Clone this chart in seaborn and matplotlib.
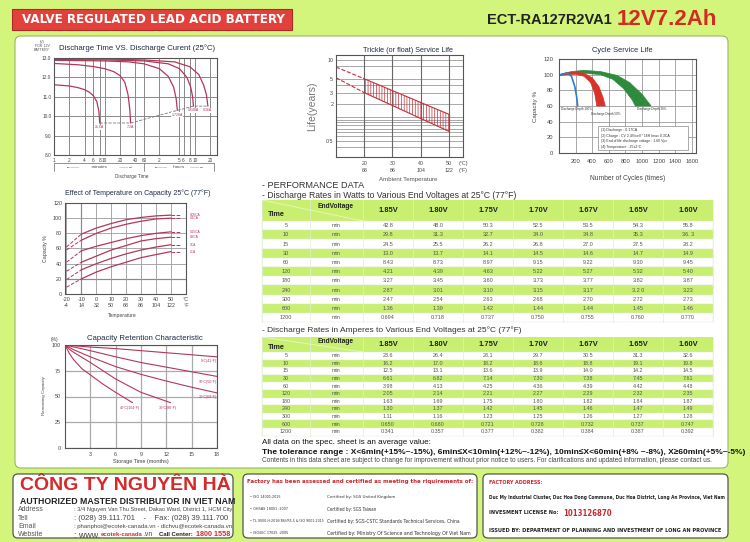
import matplotlib
matplotlib.use("Agg")
import matplotlib.pyplot as plt
import seaborn as sns
import numpy as np
from matplotlib import font_manager as fm
from matplotlib.patches import Rectangle, FancyBboxPatch
from matplotlib.ticker import NullLocator

# ---------------- data ----------------
TIMES = [5, 10, 15, 30, 60, 120, 180, 240, 300, 600, 1200]
VOLTS = ["1.85V", "1.80V", "1.75V", "1.70V", "1.67V", "1.65V", "1.60V"]

W_185 = ["42.8", "29.8", "24.5", "13.0", "8.43", "4.21", "3.27", "2.87", "2.47", "1.36", "0.694"]
W_180 = ["48.0", "31.3", "25.5", "13.7", "8.73", "4.39", "3.45", "3.01", "2.54", "1.39", "0.718"]
W_175 = ["50.3", "32.7", "26.2", "14.1", "8.97", "4.63", "3.60", "3.10", "2.63", "1.42", "0.737"]
W_170 = ["52.5", "34.0", "26.8", "14.5", "9.15", "5.22", "3.73", "3.15", "2.68", "1.44", "0.750"]
W_167 = ["53.5", "34.8", "27.0", "14.6", "9.22", "5.27", "3.77", "3.17", "2.70", "1.44", "0.755"]
W_165 = ["54.3", "35.3", "27.5", "14.7", "9.30", "5.32", "3.82", "3.2 0", "2.72", "1.45", "0.760"]
W_160 = ["55.8", "36. 3", "28.2", "14.9", "9.45", "5.40", "3.87", "3.23", "2.73", "1.46", "0.770"]

A_185 = ["23.6", "16.2", "12.5", "6.61", "3.98", "2.05", "1.63", "1.30", "1.11", "0.650", "0.341"]
A_180 = ["26.4", "17.0", "13.1", "6.82", "4.13", "2.14", "1.69", "1.37", "1.16", "0.680", "0.357"]
A_175 = ["28.1", "18.2", "13.6", "7.14", "4.25", "2.21", "1.75", "1.42", "1.23", "0.721", "0.377"]
A_170 = ["29.7", "18.6", "13.9", "7.30", "4.36", "2.27", "1.80", "1.45", "1.25", "0.728", "0.382"]
A_167 = ["30.5", "18.8", "14.0", "7.38", "4.39", "2.29", "1.82", "1.46", "1.26", "0.732", "0.384"]
A_165 = ["31.3", "19.1", "14.2", "7.45", "4.42", "2.32", "1.84", "1.47", "1.27", "0.737", "0.387"]
A_160 = ["32.6", "19.8", "14.5", "7.61", "4.48", "2.35", "1.87", "1.49", "1.28", "0.747", "0.392"]

# discharge time vs current (minutes, volts)
DC1_T = [1, 2, 3, 4, 5, 6, 7, 7.7, 8.0]
DC1_V = [11.62, 11.56, 11.47, 11.37, 11.24, 11.05, 10.75, 10.25, 9.65]
DC2_T = [1, 3, 6, 10, 15, 20, 25, 29, 31.5, 32.5]
DC2_V = [12.72, 12.65, 12.56, 12.45, 12.3, 12.1, 11.75, 11.1, 10.3, 9.65]
DC3_T = [1, 10, 30, 60, 120, 180, 230, 258, 272]
DC3_V = [12.88, 12.85, 12.8, 12.7, 12.45, 12.05, 11.5, 10.9, 10.3]
DC4_T = [1, 10, 60, 180, 300, 420, 500, 545, 565]
DC4_V = [12.92, 12.9, 12.85, 12.7, 12.45, 12.0, 11.5, 11.0, 10.52]
DC5_T = [1, 10, 60, 240, 480, 720, 900, 1020, 1090]
DC5_V = [12.95, 12.95, 12.9, 12.8, 12.55, 12.15, 11.6, 11.1, 10.52]
DC_LABELS = ["21.6A", "7.2A", "1.728A", "0.648A", "0.36A"]
END_T = [8.0, 32.5, 272, 565, 1090]
END_V = [9.65, 9.65, 10.3, 10.52, 10.52]

# trickle life (deg C, years)
TR_T = [20, 50]
TR_HI = [5.0, 1.35]
TR_LO = [3.0, 0.72]
TR_EXT_T = [10, 20]
TR_EXT_HI = [7.7, 5.0]
TR_EXT_LO = [5.2, 3.0]

# cycle life (cycles, %)
C100_X = [0, 50, 100, 150, 190, 212, 225]
C100_Y = [99, 101, 102, 98, 85, 72, 60]
C50_UX = [0, 100, 200, 300, 400, 480, 530, 558]
C50_UY = [100, 102.5, 103, 102, 96, 85, 71, 60]
C50_LX = [0, 100, 200, 300, 380, 430, 455]
C50_LY = [99, 100, 100.5, 98, 90, 76, 60]
C30_UX = [0, 150, 300, 500, 700, 850, 1000, 1110]
C30_UY = [100, 104, 105.5, 104, 99, 90, 75, 60]
C30_LX = [0, 150, 300, 500, 650, 780, 880, 920]
C30_LY = [99, 101, 102, 100, 94, 82, 68, 60]

# effect of temperature on capacity
TE_T = [-10, 0, 10, 20, 30, 40, 50]
TE_005 = [79, 87, 93, 98, 101, 103, 104]
TE_01 = [71, 80, 87, 92, 96, 99, 100]
TE_025 = [57, 63, 68, 73, 77, 80, 82]
TE_06 = [42, 50, 58, 64, 70, 73, 75]
TE_1 = [32, 40, 47, 53, 58, 62, 65]
TE_2 = [20, 29, 36, 42, 48, 52, 56]
TE_LEFT = [62, 58, 42, 30, 19, 9]
TE_LABELS = ["0.05CA", "0.1CA", "0.25CA", "0.6CA", "1CA", "2CA"]

# capacity retention (months, %)
R5_T = [0, 3, 6, 9, 12, 15, 18]
R5_V = [100, 98, 96.5, 94.5, 92.5, 90.5, 88.5]
R10_T = [0, 3, 6, 9, 12, 15, 18]
R10_V = [100, 94.5, 88.5, 83, 78.5, 74, 69.5]
R20_T = [0, 1, 2, 3, 6, 9, 12, 15, 18]
R20_V = [100, 95.5, 92, 88.5, 79, 71.5, 65, 59, 53.5]
R30_T = [0, 0.5, 1, 2, 3, 4.5, 6, 9, 12.5]
R30_V = [100, 96, 93, 88, 83, 75, 67, 54, 44]
R40_T = [0, 0.5, 1, 2, 3, 4.5, 6, 8]
R40_V = [100, 92, 86, 77, 71, 62, 54, 44]

# ---------------- style ----------------
sns.set_theme(style="white")
plt.rcParams['font.family'] = ['Liberation Sans', 'DejaVu Sans']
plt.rcParams['hatch.linewidth'] = 0.5


def pick_narrow():
    # procura uma fonte estreita instalada
    for fam, stretch in [('Liberation Sans Narrow', 'normal'), ('DejaVu Sans', 'condensed')]:
        fp = fm.FontProperties(family=fam, stretch=stretch, weight='bold')
        try:
            f = fm.findfont(fp, fallback_to_default=False)
        except ValueError:
            continue
        if 'Narrow' in f or 'Condensed' in f:
            return [fam], stretch
    return ['Liberation Sans', 'DejaVu Sans'], 'normal'


NARROW, NSTRETCH = pick_narrow()

LIME = '#d3f57b'
GREEN = '#c9ef70'
RED = '#e2413b'
PINK = '#b5365b'
DARK = '#222222'
TITLE = '#1f2a44'
GRID = '#9a9a9a'

W, H = 750, 542
fig = plt.figure(figsize=(7.5, 5.42), dpi=100)
fig.patch.set_facecolor(LIME)
renderer = fig.canvas.get_renderer()


def box(x0, y0, x1, y1):
    return [x0 / W, 1 - y1 / H, (x1 - x0) / W, (y1 - y0) / H]


bg = fig.add_axes([0, 0, 1, 1])
bg.set_xlim(0, W)
bg.set_ylim(H, 0)
bg.axis('off')


def txt(x, y, s, size=4, color=DARK, ha='left', va='center', **kw):
    return bg.text(x, y, s, fontsize=size, color=color, ha=ha, va=va, **kw)


def fit(x, y, s, width, size, color=DARK, ha='left', narrow=False, **kw):
    # ajusta o tamanho da fonte para ocupar a largura pedida
    if narrow:
        kw.update(family=NARROW, stretch=NSTRETCH)
    t = txt(x, y, s, size, color, ha=ha, **kw)
    w = t.get_window_extent(renderer).width
    t.set_fontsize(size * width / w)
    return t


def style(ax):
    ax.set_facecolor('white')
    for s in ax.spines.values():
        s.set_color('#555555')
        s.set_linewidth(0.8)
    ax.tick_params(labelsize=3.8, colors='#444444', length=0, pad=2)


# main white panel
bg.add_patch(FancyBboxPatch((15, 36), 713, 432, boxstyle='round,pad=0,rounding_size=6',
                            fc='white', ec='#9ab56a', lw=0.8))

# header
bg.add_patch(Rectangle((12, 9), 280, 21, fc=RED, ec='#b02a25', lw=0.8))
fit(22, 19.5, "VALVE REGULATED LEAD ACID BATTERY", 262, 10, 'white', weight='bold', narrow=True)
txt(612, 19.5, "ECT-RA127R2VA1", 10.5, DARK, ha='right', weight='bold')
txt(617, 19.5, "12V7.2Ah", 16, '#d42a22', weight='bold')

# ---------- discharge time vs discharge current ----------
ax = fig.add_axes(box(54, 58, 217, 155))
style(ax)
for t, v in [(DC1_T, DC1_V), (DC2_T, DC2_V), (DC3_T, DC3_V), (DC4_T, DC4_V), (DC5_T, DC5_V)]:
    sns.lineplot(x=t, y=v, ax=ax, color=PINK, lw=0.9, estimator=None, sort=False)
sns.lineplot(x=END_T, y=END_V, ax=ax, color='#777777', lw=0.6, linestyle='--',
             estimator=None, sort=False)
for t, v, lab in zip(END_T, END_V, DC_LABELS):
    ax.text(t, v - 0.12, lab, fontsize=2.5, color=PINK, ha='center', va='top',
            bbox=dict(fc='white', ec='none', pad=0.3))
ax.set_xscale('log')
ax.set_xlim(1, 1650)
ax.set_ylim(8, 13)
ax.set_xticks([1, 2, 4, 6, 8, 10, 20, 40, 60, 120, 300, 360, 480, 600, 1200])
ax.set_xticklabels(['1', '2', '4', '6', '8', '10', '20', '40', '60', '2', '5', '6', '8', '10', '20'])
ax.xaxis.set_minor_locator(NullLocator())
ax.set_yticks([8, 9, 10, 11, 12, 13])
ax.set_yticklabels(['8.0', '9.0', '10.0', '11.0', '12.0', '13.0'])
ax.grid(True, color='#8a8a8a', lw=0.7)
ax.tick_params(labelsize=3.4)
ax.set_xlabel('')
ax.set_ylabel('')
txt(137, 48, "Discharge Time VS. Discharge Curent (25°C)", 5.6, TITLE, ha='center')
txt(42, 46, "(V)\nFOR 12V\nBATTERY", 2.6, '#555555', ha='center', linespacing=1.0)
for xx in [54, 144, 214]:
    bg.plot([xx, xx], [163, 171], color='#666666', lw=0.5)
bg.plot([54, 214], [163, 163], color='#666666', lw=0.5)
txt(99, 167.5, "←——          minutes          ——→", 3.2, '#444444', ha='center')
txt(179, 167.5, "←——     hours     ——→", 3.2, '#444444', ha='center')
txt(132, 176.5, "Discharge Time", 3.4, '#444444', ha='center')

# ---------- trickle (float) service life ----------
ax = fig.add_axes(box(336, 55, 463, 157))
style(ax)
ax.set_yscale('log')
ax.fill_between(TR_T, TR_LO, TR_HI, facecolor='none', edgecolor='#c0303a', hatch='||||||', lw=0)
sns.lineplot(x=TR_T, y=TR_HI, ax=ax, color='#c0303a', lw=0.8, estimator=None, sort=False)
sns.lineplot(x=TR_T, y=TR_LO, ax=ax, color='#c0303a', lw=0.8, estimator=None, sort=False)
sns.lineplot(x=TR_EXT_T, y=TR_EXT_HI, ax=ax, color='#c0303a', lw=0.8, linestyle='--',
             estimator=None, sort=False)
sns.lineplot(x=TR_EXT_T, y=TR_EXT_LO, ax=ax, color='#c0303a', lw=0.8, linestyle='--',
             estimator=None, sort=False)
ax.plot([50, 50], [TR_LO[1], TR_HI[1]], color='#c0303a', lw=0.8)
ax.set_xlim(10, 55)
ax.set_ylim(0.28, 12)
ax.yaxis.set_minor_locator(NullLocator())
ax.set_yticks([0.5, 2, 3, 5, 10])
ax.set_yticklabels(['0.5', '2', '3', '5', '10'])
for gy in [10, 8, 5, 4, 3, 2, 1.2, 1.1, 1.0, 0.9, 0.8, 0.7, 0.6, 0.5, 0.4]:
    ax.axhline(gy, color=GRID, lw=0.6, zorder=0)
for gx in [20, 30, 40, 50]:
    ax.axvline(gx, color='#666666', lw=0.8, zorder=0)
ax.set_xticks([20, 30, 40, 50, 55])
ax.set_xticklabels(['20\n68', '30\n86', '40\n104', '50\n122', '(°C)\n(°F)'], linespacing=1.5)
ax.tick_params(axis='x', pad=3)
ax.set_xlabel('')
ax.set_ylabel('')
txt(408, 50, "Trickle (or float) Service Life", 5.2, TITLE, ha='center')
txt(312, 106, "Life(years)", 7.5, '#777777', ha='center', rotation=90)
txt(408, 180, "Ambient Temperature", 4.4, '#555555', ha='center')

# ---------- cycle service life ----------
ax = fig.add_axes(box(559, 59, 696, 153))
style(ax)
ax.fill(C30_UX + C30_LX[::-1], C30_UY + C30_LY[::-1], color='#2e8b3e', lw=0.5)
ax.fill(C50_UX + C50_LX[::-1], C50_UY + C50_LY[::-1], color='#d8322a', lw=0.5)
sns.lineplot(x=C100_X, y=C100_Y, ax=ax, color='#2a7fd0', lw=1.2, estimator=None, sort=False)
ax.text(30, 56, "Discharge Depth 100%", fontsize=2.2, color='#333333', va='center')
ax.text(390, 50, "Discharge Depth 50%", fontsize=2.2, color='#333333', va='center')
ax.text(940, 56, "Discharge Depth 30%", fontsize=2.2, color='#333333', va='center')
ax.add_patch(Rectangle((470, 4), 1080, 30, fc='white', ec='#888888', lw=0.5, zorder=3))
for k, s in enumerate(["(1) Discharge : 0.17CA",
                       "(2) Charge : CV 2.4V/cell * 16H Imax 0.3CA",
                       "(3) End of life discharge voltage : 1.60 Vpc",
                       "(4) Temperature : 25±2°C"]):
    ax.text(500, 29.5 - k * 7.3, s, fontsize=2.5, color='#333333', va='center', zorder=4)
ax.set_xlim(0, 1650)
ax.set_ylim(0, 120)
ax.set_xticks([200, 400, 600, 800, 1000, 1200, 1400, 1600])
ax.set_yticks([0, 20, 40, 60, 80, 100, 120])
ax.grid(True, color=GRID, lw=0.6)
ax.set_axisbelow(True)
ax.tick_params(labelsize=4.2, pad=4)
ax.set_xlabel('')
ax.set_ylabel('')
txt(622, 51, "Cycle Service Life", 5.4, TITLE, ha='center')
txt(536, 106, "Capacity %", 4.4, '#444444', ha='center', rotation=90)
txt(628, 179, "Number of Cycles (times)", 4.8, '#444444', ha='center')

# ---------- effect of temperature on capacity ----------
ax = fig.add_axes(box(65, 203, 186, 294))
style(ax)
for vals, left, lab in zip([TE_005, TE_01, TE_025, TE_06, TE_1, TE_2], TE_LEFT, TE_LABELS):
    sns.lineplot(x=TE_T, y=vals, ax=ax, color=PINK, lw=0.9, estimator=None, sort=False)
    sns.lineplot(x=[-20, TE_T[0]], y=[left, vals[0]], ax=ax, color=PINK, lw=0.7,
                 linestyle='--', estimator=None, sort=False)
    sns.lineplot(x=[TE_T[-1], 56], y=[vals[-1], vals[-1]], ax=ax, color=PINK, lw=0.7,
                 linestyle='--', estimator=None, sort=False)
    ax.text(62.5, vals[-1], lab, fontsize=2.3, color=PINK, va='center', clip_on=False)
ax.set_xlim(-21, 60)
ax.set_ylim(0, 120)
ax.set_xticks([-20, -10, 0, 10, 20, 30, 40, 50, 60])
ax.set_xticklabels(['-20\n-4', '-10\n14', '0\n32', '10\n50', '20\n68', '30\n86',
                    '40\n104', '50\n122', '°C\n°F'], linespacing=1.3)
ax.set_yticks([0, 20, 40, 60, 80, 100, 120])
ax.grid(True, color=GRID, lw=0.6)
ax.axvline(-10, color='#333333', lw=0.8, zorder=0)
ax.axhline(20, color='#333333', lw=0.8, zorder=0)
ax.tick_params(labelsize=3.9, pad=2)
ax.set_xlabel('')
ax.set_ylabel('')
txt(138, 193, "Effect of Temperature on Capacity 25°C (77°F)", 5.0, TITLE, ha='center')
txt(46, 249, "Capacity %", 3.8, '#444444', ha='center', rotation=90)
txt(122, 316, "Temperature", 3.6, '#444444', ha='center')

# ---------- capacity retention characteristic ----------
ax = fig.add_axes(box(65, 345, 217, 448))
style(ax)
for t, v in [(R5_T, R5_V), (R10_T, R10_V), (R20_T, R20_V), (R30_T, R30_V), (R40_T, R40_V)]:
    sns.lineplot(x=t, y=v, ax=ax, color=PINK, lw=0.8, estimator=None, sort=False)
for x, y, lab in [(18, 84, "5°C(41°F)"), (18, 64, "10°C(50°F)"), (18, 49.5, "20°C(68°F)"),
                  (8.9, 39, "40°C(104°F)"), (13.3, 39, "30°C(86°F)")]:
    ax.text(x, y, lab, fontsize=2.6, color=PINK, ha='right', va='center')
ax.set_xlim(0, 18)
ax.set_ylim(0, 100)
ax.set_xticks([3, 6, 9, 12, 15, 18])
ax.set_yticks([0, 25, 50, 75, 100])
ax.grid(True, color='#aaaaaa', lw=0.9)
ax.tick_params(labelsize=3.9, pad=3)
ax.set_xlabel('')
ax.set_ylabel('')
txt(145, 338, "Capacity Retention Characteristic", 5.6, TITLE, ha='center')
txt(55, 339, "(%)", 3.6, '#444444', ha='center')
txt(44, 396, "Remaining Capacity", 3.2, '#444444', ha='center', rotation=90)
txt(141, 462, "Storage Time (months)", 4.0, '#444444', ha='center')

# ---------- performance tables ----------
COL_X = [262, 310, 363, 413, 463, 513, 563, 613, 663, 713]


def draw_table(top, head_h, row_h, cols, vsize):
    bg.add_patch(Rectangle((COL_X[0], top), COL_X[-1] - COL_X[0], head_h, fc=GREEN, ec='none'))
    bg.plot([COL_X[0], COL_X[2]], [top, top + head_h], color='#e8f8c0', lw=0.6)
    txt(276, top + head_h * 0.68, "Time", 5.2, DARK, ha='center', weight='bold')
    txt(336, top + head_h * 0.3, "EndVoltage", 4.8, DARK, ha='center', weight='bold')
    for j, v in enumerate(VOLTS):
        txt((COL_X[j + 2] + COL_X[j + 3]) / 2, top + head_h / 2, v, 5.4, DARK, ha='center',
            weight='bold')
    for i, t in enumerate(TIMES):
        y = top + head_h + i * row_h
        fc = GREEN if i % 2 else 'white'
        bg.add_patch(Rectangle((COL_X[0], y), COL_X[-1] - COL_X[0], row_h, fc=fc,
                               ec='#dfe9cf', lw=0.3))
        cy = y + row_h / 2
        txt(286, cy, str(t), vsize, '#555555', ha='center')
        txt(336, cy, "min", vsize, '#555555', ha='center')
        for j, col in enumerate(cols):
            txt((COL_X[j + 2] + COL_X[j + 3]) / 2, cy, col[i], vsize, '#555555', ha='center')
    bottom = top + head_h + len(TIMES) * row_h
    for x in COL_X:
        bg.plot([x, x], [top, bottom], color='#e2eed0', lw=0.5)


txt(262, 185, "- PERFORMANCE DATA", 6.6, '#333333')
txt(262, 196, "- Discharge Rates in Watts to Various End Voltages at 25°C (77°F)", 6.2, '#333333')
draw_table(200, 21, 9.2, [W_185, W_180, W_175, W_170, W_167, W_165, W_160], 4.0)

txt(262, 330, "- Discharge Rates in Amperes to Various End Voltages at 25°C (77°F)", 6.0, '#333333')
draw_table(337, 15, 7.6, [A_185, A_180, A_175, A_170, A_167, A_165, A_160], 3.9)

txt(262, 443, "All data on the spec. sheet is an average value:", 5.8, '#111111')
fit(262, 452, "The tolerance range : X<6min(+15%~-15%), 6min≤X<10min(+12%~-12%), "
    "10min≤X<60min(+8% ~-8%), X≥60min(+5%~-5%)", 478, 5.8, '#111111', weight='bold')
fit(262, 461, "Contents in this data sheet are subject to change for improvement without prior "
    "notice to users. For clarifications and updated information, please contact us.",
    452, 4.5, '#444444')

# ---------- footer ----------
for x0, x1 in [(13, 233), (243, 477), (483, 728)]:
    bg.add_patch(FancyBboxPatch((x0, 474), x1 - x0, 64, boxstyle='round,pad=0,rounding_size=5',
                                fc='white', ec='#555555', lw=0.9))

fit(20, 486, "CÔNG TY NGUYÊN HÀ", 211, 15, '#d42a2a', weight='bold')
fit(20, 501, "AUTHORIZED MASTER DISTRIBUTOR IN VIET NAM", 211, 5.8, '#222222', weight='bold')
ROWS_Y = [509.5, 518, 526.5, 535]
for yy, lab in zip(ROWS_Y, ["Address", "Tell", "Email", "Website"]):
    txt(18, yy, lab, 5.0, '#555555')
fit(74, ROWS_Y[0], ": 3/4 Nguyen Van Thu Street, Dakao Ward, District 1, HCM City", 158, 3.9, '#444444')
fit(74, ROWS_Y[1], ": (028) 39.111.701    -    Fax: (028) 39.111.700", 158, 5.1, '#444444')
fit(74, ROWS_Y[2], ": phanphoi@ecotek-canada.vn - dichvu@ecotek-canada.vn", 157, 3.9, '#444444')
fit(74, ROWS_Y[3], ": www.", 26, 4.5, '#444444')
fit(101, ROWS_Y[3], "ecotek-canada", 42, 4.5, '#d42a2a', weight='bold')
fit(143, ROWS_Y[3], ".vn", 9, 4.5, '#444444')
fit(159, ROWS_Y[3], "Call Center:", 34, 4.5, '#222222', weight='bold')
fit(196, ROWS_Y[3], "1800 1558", 34, 4.5, '#d42a2a', weight='bold')

fit(247, 481, "Factory has been assessed and certified as meeting the riquirements of:", 227, 5.6,
    '#c8282a', weight='bold', narrow=True)
CERT_Y = [497, 509, 521, 533]
for yy, a, aw, b, bw in zip(CERT_Y,
                            ["• ISO 14001:2015", "• OHSAS 18001 :2007",
                             "• TL 9000-H:2016(R6)/R5.5 & ISO 9001:2015", "• ISO/IEC 17025 :2005"],
                            [30, 38, 73, 38],
                            ["Certified by: SGS United Kingdom", "Certified by: SGS Taiwan",
                             "Certified by: SGS-CSTC Standards Technical Services, China",
                             "Certified by: Ministry Of Science and Technology Of Viet Nam"],
                            [68, 50, 137, 145]):
    fit(250, yy, a, aw, 3.3, '#333333', narrow=True)
    fit(327, yy, b, bw, 3.3, '#333333', narrow=True)

fit(489, 483, "FACTORY ADDRESS:", 53, 4.0, '#c8282a', weight='bold', narrow=True)
fit(489, 498, "Duc My Industrial Cluster, Duc Hoa Dong Commune, Duc Hoa District, Long An "
    "Province, Viet Nam", 235, 3.9, '#222222', weight='bold', narrow=True)
fit(489, 513, "INVESMENT LICENSE No:", 70, 4.3, '#222222', weight='bold', narrow=True)
fit(563, 513, "1013126870", 49, 4.3, '#c8282a', weight='bold', narrow=True)
fit(489, 530, "ISSUED BY: DEPARTMENT OF PLANNING AND INVESTMENT OF LONG AN PROVINCE", 235, 4.3,
    '#222222', weight='bold', narrow=True)

fig.savefig("out.png", dpi=100, facecolor=fig.get_facecolor())
